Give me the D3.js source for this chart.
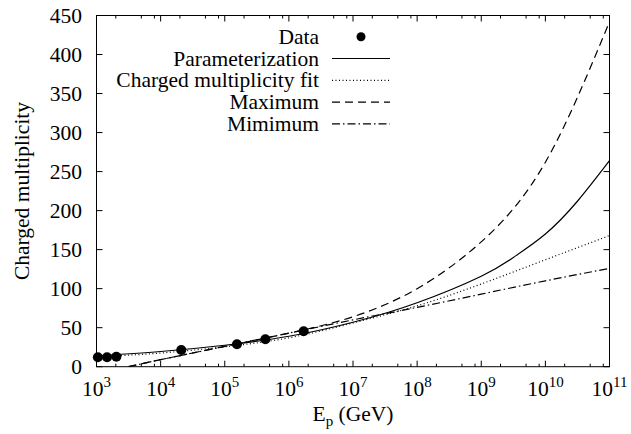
<!DOCTYPE html>
<html>
<head>
<meta charset="utf-8">
<script src="https://cdn.jsdelivr.net/npm/d3@7"></script>
<style>
  body { margin: 0; background: #fff; }
  .frame { fill: none; stroke: #000; stroke-width: 1; }
  .tick { stroke: #000; stroke-width: 1; }
  .curve { fill: none; stroke: #000; stroke-width: 1.2; }
</style>
</head>
<body>
<svg id="chart" width="631" height="434"></svg>
<script>
// measured data points
const dataE = [1050, 1460, 2040, 2.1e4, 1.55e5, 4.3e5, 1.7e6];
const dataN = [12.0, 12.1, 12.8, 21.4, 28.7, 35.1, 45.4];

// curves
const paramE = [1e3, 1e4, 1e5, 1e6, 1e7, 1e8, 1e9, 3.16e9, 1e10, 3.16e10, 1e11];
const paramN = [14, 19.5, 27.5, 39, 57, 82, 116, 140, 170, 212, 264];
const fitE = [1e3, 1e4, 1e5, 1e6, 1e7, 1e8, 1e9, 1e10, 1e11];
const fitN = [12.5, 17.5, 25.5, 37, 56, 78, 106, 137, 168];
const maxE = [3.16e3, 1e4, 1e5, 1e6, 1e7, 1e8, 1e9, 1e10, 1e11];
const maxN = [0, 9, 26, 43, 64, 100, 160, 262, 442];
const minE = [3.16e3, 1e4, 1e5, 1e6, 1e7, 1e8, 1e9, 1e10, 1e11];
const minN = [0, 9, 26, 43, 60, 76, 93, 110, 126];

const yTicks = [0, 50, 100, 150, 200, 250, 300, 350, 400, 450];
const xDecades = [3, 4, 5, 6, 7, 8, 9, 10, 11];
const minorMult = [2, 5, 8];

const legendItems = [
  { label: "Data", kind: "dot" },
  { label: "Parameterization", kind: "solid" },
  { label: "Charged multiplicity fit", kind: "dotted" },
  { label: "Maximum", kind: "dashed" },
  { label: "Mimimum", kind: "dashdot" },
];

const dashes = { solid: null, dotted: "1,2.5", dashed: "8,5", dashdot: "8,3,1.5,3" };
const FONT = "'Liberation Serif', 'Times New Roman', Times, 'DejaVu Serif', serif";
const FS = 21.5;

const svg = d3.select("#chart").attr("font-family", FONT);
const m = { left: 96.5, right: 609.5, top: 15.5, bottom: 366.7 };

const x = d3.scaleLog().domain([1e3, 1e11]).range([m.left, m.right]);
const y = d3.scaleLinear().domain([0, 450]).range([m.bottom, m.top]);

svg.append("defs").append("clipPath").attr("id", "plot-clip")
  .append("rect")
  .attr("x", m.left).attr("y", m.top)
  .attr("width", m.right - m.left).attr("height", m.bottom - m.top);

function label(xp, yp, anchor) {
  return svg.append("text")
    .attr("x", xp).attr("y", yp)
    .attr("text-anchor", anchor)
    .attr("font-family", FONT)
    .attr("font-size", FS);
}

// ticks
const tickG = svg.append("g");
yTicks.forEach((v) => {
  const yy = y(v);
  tickG.append("line").attr("class", "tick").attr("x1", m.left).attr("x2", m.left + 6).attr("y1", yy).attr("y2", yy);
  tickG.append("line").attr("class", "tick").attr("x1", m.right).attr("x2", m.right - 6).attr("y1", yy).attr("y2", yy);
  label(82, yy + 7, "end").text(v);
});

xDecades.forEach((k) => {
  const xx = x(Math.pow(10, k));
  tickG.append("line").attr("class", "tick").attr("x1", xx).attr("x2", xx).attr("y1", m.bottom).attr("y2", m.bottom - 6);
  tickG.append("line").attr("class", "tick").attr("x1", xx).attr("x2", xx).attr("y1", m.top).attr("y2", m.top + 6);
  if (k < 11) {
    minorMult.forEach((mm) => {
      const xm = x(mm * Math.pow(10, k));
      tickG.append("line").attr("class", "tick").attr("x1", xm).attr("x2", xm).attr("y1", m.bottom).attr("y2", m.bottom - 3);
      tickG.append("line").attr("class", "tick").attr("x1", xm).attr("x2", xm).attr("y1", m.top).attr("y2", m.top + 3);
    });
  }
  const t = label(xx, 396, "middle");
  t.append("tspan").text("10");
  t.append("tspan").attr("dy", -9).attr("font-size", 15).text(k);
});

svg.append("rect").attr("class", "frame")
  .attr("x", m.left).attr("y", m.top)
  .attr("width", m.right - m.left).attr("height", m.bottom - m.top);

// axis titles
const xt = label(353, 421, "middle");
xt.append("tspan").text("E");
xt.append("tspan").attr("dy", 5).attr("font-size", 15).text("p");
xt.append("tspan").attr("dy", -5).text(" (GeV)");

label(0, 0, "middle")
  .attr("transform", "translate(29,191) rotate(-90)")
  .text("Charged multiplicity");

// curves
const line = d3.line()
  .x((d) => x(d[0]))
  .y((d) => y(d[1]))
  .curve(d3.curveNatural);

const plot = svg.append("g").attr("clip-path", "url(#plot-clip)");

function drawCurve(es, ns, kind) {
  plot.append("path")
    .attr("class", "curve")
    .attr("d", line(d3.zip(es, ns)))
    .attr("stroke-dasharray", dashes[kind]);
}

drawCurve(paramE, paramN, "solid");
drawCurve(fitE, fitN, "dotted");
drawCurve(maxE, maxN, "dashed");
drawCurve(minE, minN, "dashdot");

svg.append("g").selectAll("circle")
  .data(d3.zip(dataE, dataN))
  .join("circle")
  .attr("cx", (d) => x(d[0]))
  .attr("cy", (d) => y(d[1]))
  .attr("r", 5)
  .attr("fill", "#000");

// legend
const leg = svg.append("g");
legendItems.forEach((it, i) => {
  const yy = 36.7 + i * 21.8;
  label(319, yy + 7, "end").text(it.label);
  if (it.kind === "dot") {
    leg.append("circle").attr("cx", 361).attr("cy", yy).attr("r", 4.5).attr("fill", "#000");
  } else {
    leg.append("line")
      .attr("class", "curve")
      .attr("x1", 332).attr("x2", 390)
      .attr("y1", yy).attr("y2", yy)
      .attr("stroke-dasharray", dashes[it.kind]);
  }
});
</script>
</body>
</html>
